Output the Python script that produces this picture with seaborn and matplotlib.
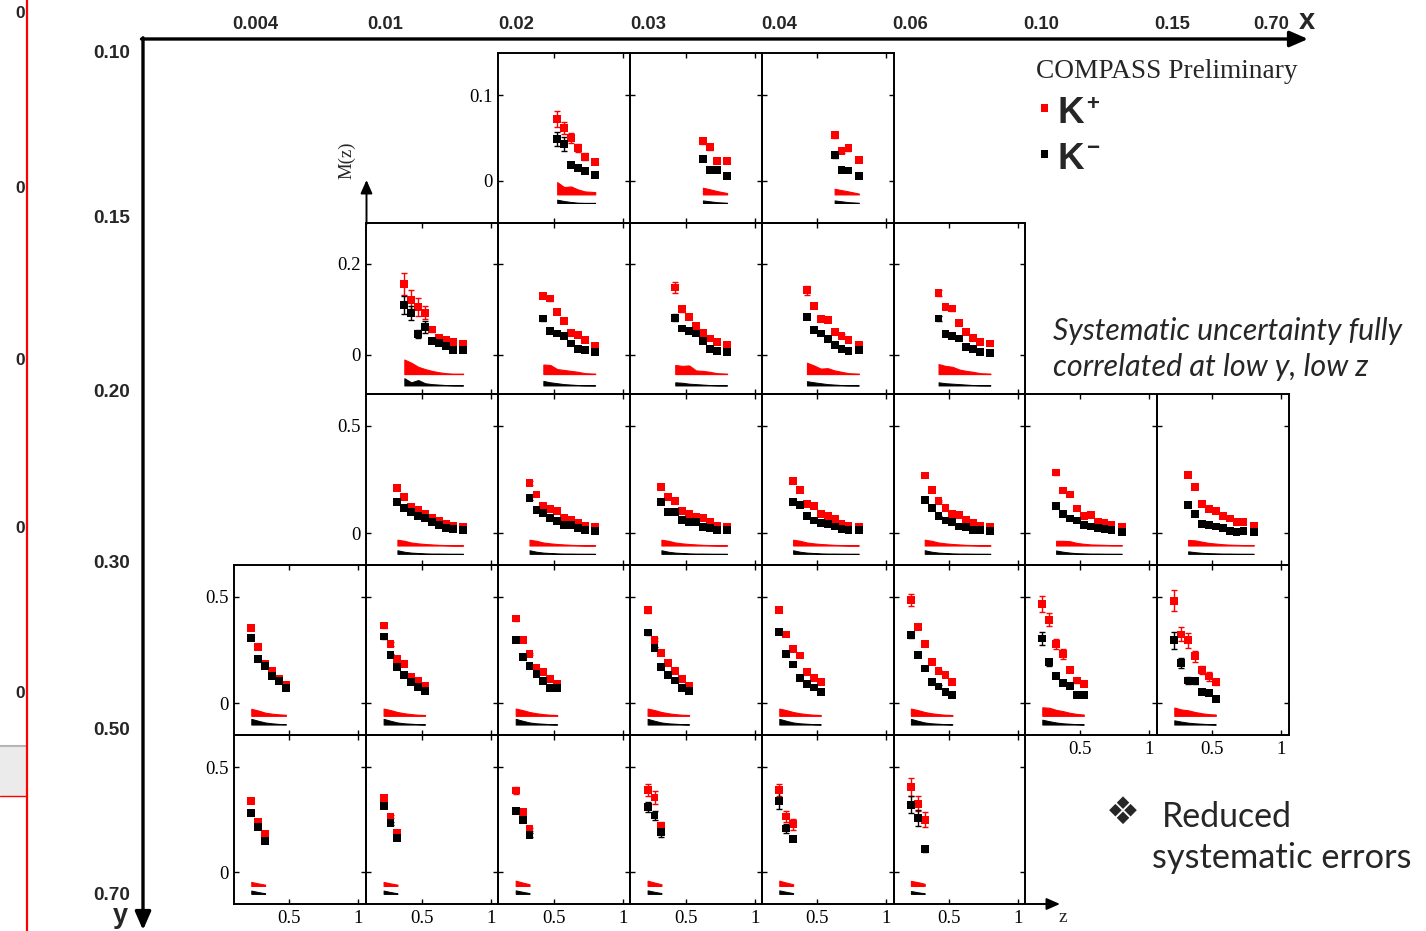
import numpy as np
import pandas as pd
import matplotlib
matplotlib.use("Agg")
import matplotlib.pyplot as plt
from matplotlib.patches import Rectangle
import seaborn as sns

# ---------------------------------------------------------------- data
Z_BINS = [0.225, 0.275, 0.325, 0.375, 0.425, 0.475, 0.525, 0.575, 0.625, 0.675, 0.725, 0.80]
X_BIN_LABELS = ["0.004", "0.01", "0.02", "0.03", "0.04", "0.06", "0.10", "0.15", "0.70"]
Y_BIN_LABELS = ["0.10", "0.15", "0.20", "0.30", "0.50", "0.70"]
LEFT_ARTIFACT_LABELS = ["0", "0", "0", "0", "0"]

# row 0 : 0.10 < y < 0.15
R0_COL = [2, 3, 4]
R0_ZFIRST = [6, 8, 8]
R0_KP = [[0.072, 0.062, 0.050, 0.038, 0.028, 0.022], [0.046, 0.039, 0.023, 0.023], [0.053, 0.035, 0.038, 0.024]]
R0_KM = [[0.049, 0.043, 0.018, 0.015, 0.011, 0.007], [0.025, 0.0125, 0.0125, 0.0055], [0.030, 0.0125, 0.012, 0.006]]
R0_KP_ERR = [[0.009, 0.007, 0.006, 0.005, 0.004, 0.002], [0.003, 0.003, 0.002, 0.002], [0.003, 0.003, 0.003, 0.002]]
R0_KM_ERR = [[0.008, 0.008, 0.002, 0.002, 0.002, 0.002], [0.002, 0.002, 0.002, 0.002], [0.003, 0.002, 0.002, 0.002]]
R0_KP_SYS = [[0.0144, 0.0086, 0.0093, 0.0058, 0.0035, 0.0027], [0.0078, 0.006, 0.004, 0.0016], [0.0066, 0.005, 0.0035, 0.001]]
R0_KM_SYS = [[0.0039, 0.0023, 0.0012, 0.0004, 0.0002, 0.0002], [0.003, 0.002, 0.001, 0.0003], [0.003, 0.002, 0.001, 0.0003]]

# row 1 : 0.15 < y < 0.20
R1_COL = [1, 2, 3, 4, 5]
R1_ZFIRST = [3, 4, 4, 4, 4]
R1_KP = [[0.156, 0.121, 0.105, 0.093, 0.056, 0.037, 0.034, 0.029, 0.024],
         [0.130, 0.124, 0.095, 0.074, 0.048, 0.044, 0.032, 0.019],
         [0.148, 0.101, 0.083, 0.064, 0.048, 0.036, 0.028, 0.022],
         [0.142, 0.108, 0.079, 0.077, 0.051, 0.042, 0.032, 0.022],
         [0.136, 0.105, 0.102, 0.070, 0.050, 0.038, 0.028, 0.025]]
R1_KM = [[0.110, 0.092, 0.046, 0.062, 0.031, 0.027, 0.020, 0.010, 0.011],
         [0.080, 0.053, 0.047, 0.041, 0.025, 0.013, 0.010, 0.006],
         [0.082, 0.058, 0.053, 0.047, 0.031, 0.013, 0.008, 0.007],
         [0.083, 0.055, 0.047, 0.035, 0.022, 0.013, 0.008, 0.010],
         [0.080, 0.046, 0.041, 0.036, 0.018, 0.013, 0.007, 0.005]]
R1_KP_ERR = [[0.025, 0.021, 0.019, 0.015, 0.006, 0.004, 0.004, 0.003, 0.003],
             [0.006, 0.006, 0.005, 0.004, 0.003, 0.003, 0.002, 0.002],
             [0.013, 0.006, 0.005, 0.004, 0.003, 0.003, 0.002, 0.002],
             [0.010, 0.006, 0.005, 0.004, 0.003, 0.003, 0.002, 0.002],
             [0.007, 0.005, 0.005, 0.004, 0.003, 0.003, 0.002, 0.002]]
R1_KM_ERR = [[0.020, 0.016, 0.008, 0.013, 0.005, 0.004, 0.003, 0.003, 0.002],
             [0.005, 0.004, 0.004, 0.003, 0.003, 0.002, 0.002, 0.002],
             [0.008, 0.004, 0.004, 0.003, 0.003, 0.002, 0.002, 0.002],
             [0.005, 0.004, 0.004, 0.003, 0.003, 0.002, 0.002, 0.002],
             [0.005, 0.004, 0.004, 0.003, 0.003, 0.002, 0.002, 0.002]]
R1_KP_SYS = [[0.032, 0.025, 0.016, 0.011, 0.007, 0.004, 0.002, 0.001, 0.001],
             [0.021, 0.020, 0.011, 0.009, 0.007, 0.005, 0.002, 0.001],
             [0.020, 0.018, 0.019, 0.008, 0.007, 0.005, 0.002, 0.001],
             [0.025, 0.019, 0.012, 0.013, 0.008, 0.005, 0.002, 0.001],
             [0.022, 0.018, 0.016, 0.010, 0.007, 0.005, 0.002, 0.001]]
R1_KM_SYS = [[0.016, 0.007, 0.012, 0.005, 0.003, 0.002, 0.001, 0.0005, 0.0003],
             [0.010, 0.007, 0.005, 0.003, 0.002, 0.001, 0.0005, 0.0003],
             [0.007, 0.006, 0.004, 0.003, 0.002, 0.001, 0.0005, 0.0003],
             [0.0095, 0.007, 0.005, 0.003, 0.002, 0.001, 0.0005, 0.0003],
             [0.007, 0.005, 0.004, 0.003, 0.002, 0.001, 0.0005, 0.0003]]

# row 2 : 0.20 < y < 0.30
R2_COL = [1, 2, 3, 4, 5, 6, 7]
R2_ZFIRST = [2, 2, 2, 2, 2, 2, 2]
R2_KP = [[0.209, 0.170, 0.122, 0.106, 0.091, 0.069, 0.059, 0.041, 0.034, 0.028],
         [0.234, 0.180, 0.125, 0.112, 0.103, 0.070, 0.0625, 0.047, 0.034, 0.028],
         [0.216, 0.169, 0.150, 0.103, 0.0875, 0.075, 0.069, 0.050, 0.034, 0.028],
         [0.244, 0.203, 0.134, 0.125, 0.0875, 0.081, 0.066, 0.044, 0.034, 0.031],
         [0.269, 0.203, 0.150, 0.119, 0.091, 0.084, 0.0625, 0.047, 0.034, 0.031],
         [0.283, 0.199, 0.180, 0.115, 0.078, 0.084, 0.053, 0.047, 0.040, 0.031],
         [0.273, 0.217, 0.137, 0.112, 0.102, 0.081, 0.068, 0.053, 0.050, 0.034]]
R2_KM = [[0.144, 0.119, 0.097, 0.081, 0.069, 0.053, 0.037, 0.022, 0.019, 0.0125],
         [0.1625, 0.109, 0.094, 0.072, 0.056, 0.0375, 0.0375, 0.022, 0.0125, 0.009],
         [0.144, 0.100, 0.097, 0.0625, 0.050, 0.050, 0.028, 0.022, 0.016, 0.0125],
         [0.144, 0.131, 0.081, 0.059, 0.047, 0.044, 0.031, 0.019, 0.016, 0.016],
         [0.153, 0.116, 0.078, 0.059, 0.050, 0.031, 0.028, 0.016, 0.016, 0.009],
         [0.127, 0.090, 0.068, 0.059, 0.037, 0.031, 0.022, 0.019, 0.016, 0.006],
         [0.130, 0.090, 0.043, 0.037, 0.031, 0.025, 0.009, 0.006, 0.009, 0.006]]
R2_KP_ERR = [[0.008, 0.006, 0.005, 0.005, 0.004, 0.004, 0.004, 0.003, 0.003, 0.003]] * 5 + \
            [[0.012, 0.008, 0.006, 0.005, 0.005, 0.004, 0.004, 0.003, 0.003, 0.003]] * 2
R2_KM_ERR = [[0.006, 0.005, 0.004, 0.004, 0.003, 0.003, 0.003, 0.003, 0.003, 0.003]] * 7
R2_KP_SYS = [[0.027, 0.022, 0.014, 0.010, 0.007, 0.005, 0.003, 0.002, 0.001, 0.001]] * 5 + \
            [[0.022, 0.022, 0.020, 0.012, 0.008, 0.005, 0.004, 0.003, 0.002, 0.002],
             [0.026, 0.024, 0.018, 0.012, 0.009, 0.006, 0.004, 0.003, 0.002, 0.002]]
R2_KM_SYS = [[0.017, 0.010, 0.006, 0.004, 0.002, 0.001, 0.001, 0.0005, 0.0003, 0.0002]] * 5 + \
            [[0.016, 0.010, 0.006, 0.003, 0.002, 0.001, 0.001, 0.0005, 0.0003, 0.0002],
             [0.012, 0.008, 0.005, 0.003, 0.002, 0.001, 0.001, 0.0005, 0.0003, 0.0002]]

# row 3 : 0.30 < y < 0.50
R3_COL = [0, 1, 2, 3, 4, 5, 6, 7]
R3_ZFIRST = [0, 0, 0, 0, 0, 0, 0, 0]
R3_KP = [[0.352, 0.262, 0.184, 0.152, 0.1125, 0.086],
         [0.364, 0.278, 0.206, 0.183, 0.125, 0.106, 0.081],
         [0.397, 0.297, 0.230, 0.167, 0.145, 0.114, 0.091],
         [0.436, 0.297, 0.234, 0.1875, 0.150, 0.1125, 0.081],
         [0.436, 0.322, 0.253, 0.223, 0.145, 0.117, 0.097],
         [0.484, 0.359, 0.278, 0.192, 0.150, 0.131, 0.097],
         [0.464, 0.391, 0.278, 0.230, 0.156, 0.106, 0.091],
         [0.481, 0.322, 0.294, 0.219, 0.156, 0.125, 0.100]]
R3_KM = [[0.305, 0.208, 0.175, 0.128, 0.102, 0.070],
         [0.3125, 0.225, 0.169, 0.131, 0.097, 0.077, 0.058],
         [0.295, 0.216, 0.175, 0.1375, 0.103, 0.069, 0.069],
         [0.331, 0.258, 0.169, 0.130, 0.106, 0.072, 0.055],
         [0.334, 0.231, 0.181, 0.119, 0.0875, 0.073, 0.052],
         [0.320, 0.225, 0.1625, 0.100, 0.078, 0.052, 0.039],
         [0.303, 0.191, 0.128, 0.094, 0.081, 0.0375, 0.0375],
         [0.294, 0.1875, 0.106, 0.103, 0.052, 0.047, 0.019]]
R3_KP_ERR = [[0.010, 0.008, 0.006, 0.005, 0.005, 0.004],
             [0.010, 0.008, 0.006, 0.005, 0.005, 0.004, 0.004],
             [0.010, 0.008, 0.006, 0.005, 0.005, 0.004, 0.004],
             [0.012, 0.008, 0.006, 0.005, 0.005, 0.004, 0.004],
             [0.010, 0.008, 0.006, 0.005, 0.005, 0.004, 0.004],
             [0.027, 0.012, 0.008, 0.006, 0.006, 0.005, 0.005],
             [0.038, 0.031, 0.025, 0.022, 0.012, 0.010, 0.010],
             [0.050, 0.033, 0.035, 0.025, 0.020, 0.020, 0.015]]
R3_KM_ERR = [[0.010, 0.007, 0.005, 0.005, 0.004, 0.004],
             [0.010, 0.007, 0.005, 0.005, 0.004, 0.004, 0.004],
             [0.010, 0.007, 0.005, 0.005, 0.004, 0.004, 0.004],
             [0.010, 0.007, 0.005, 0.005, 0.004, 0.004, 0.004],
             [0.010, 0.007, 0.005, 0.005, 0.004, 0.004, 0.004],
             [0.014, 0.009, 0.006, 0.005, 0.005, 0.004, 0.004],
             [0.029, 0.015, 0.010, 0.008, 0.006, 0.006, 0.006],
             [0.039, 0.025, 0.015, 0.015, 0.008, 0.008, 0.006]]
R3_KP_SYS = [[0.033, 0.025, 0.015, 0.010, 0.007, 0.005]] + \
            [[0.034, 0.027, 0.018, 0.012, 0.008, 0.005, 0.004]] * 5 + \
            [[0.040, 0.038, 0.028, 0.022, 0.014, 0.009, 0.006],
             [0.039, 0.030, 0.026, 0.018, 0.012, 0.008, 0.006]]
R3_KM_SYS = [[0.027, 0.018, 0.010, 0.006, 0.003, 0.002]] + \
            [[0.027, 0.018, 0.010, 0.006, 0.004, 0.002, 0.001]] * 5 + \
            [[0.023, 0.016, 0.010, 0.006, 0.004, 0.002, 0.001],
             [0.020, 0.014, 0.009, 0.006, 0.004, 0.002, 0.001]]

# row 4 : 0.50 < y < 0.70
R4_COL = [0, 1, 2, 3, 4, 5]
R4_ZFIRST = [0, 0, 0, 0, 0, 0]
R4_KP = [[0.340, 0.242, 0.181], [0.355, 0.266, 0.189], [0.390, 0.287, 0.205],
         [0.393, 0.357, 0.221], [0.393, 0.266, 0.229], [0.406, 0.327, 0.251]]
R4_KM = [[0.283, 0.217, 0.151], [0.316, 0.234, 0.164], [0.291, 0.250, 0.180],
         [0.311, 0.271, 0.194], [0.342, 0.209, 0.161], [0.322, 0.259, 0.111]]
R4_KP_ERR = [[0.008, 0.008, 0.008], [0.008, 0.008, 0.008], [0.015, 0.008, 0.008],
             [0.030, 0.030, 0.020], [0.030, 0.025, 0.025], [0.044, 0.035, 0.035]]
R4_KM_ERR = [[0.008, 0.008, 0.008], [0.008, 0.008, 0.008], [0.010, 0.010, 0.010],
             [0.025, 0.020, 0.025], [0.040, 0.020, 0.010], [0.040, 0.040, 0.012]]
R4_KP_SYS = [[0.019, 0.012, 0.006]] * 2 + [[0.025, 0.016, 0.008]] * 3 + [[0.024, 0.018, 0.010]]
R4_KM_SYS = [[0.016, 0.009, 0.003]] * 2 + [[0.017, 0.010, 0.004]] * 3 + [[0.014, 0.008, 0.003]]

ROWS = [
    dict(col=R0_COL, zf=R0_ZFIRST, kp=R0_KP, km=R0_KM, kpe=R0_KP_ERR, kme=R0_KM_ERR, kps=R0_KP_SYS, kms=R0_KM_SYS),
    dict(col=R1_COL, zf=R1_ZFIRST, kp=R1_KP, km=R1_KM, kpe=R1_KP_ERR, kme=R1_KM_ERR, kps=R1_KP_SYS, kms=R1_KM_SYS),
    dict(col=R2_COL, zf=R2_ZFIRST, kp=R2_KP, km=R2_KM, kpe=R2_KP_ERR, kme=R2_KM_ERR, kps=R2_KP_SYS, kms=R2_KM_SYS),
    dict(col=R3_COL, zf=R3_ZFIRST, kp=R3_KP, km=R3_KM, kpe=R3_KP_ERR, kme=R3_KM_ERR, kps=R3_KP_SYS, kms=R3_KM_SYS),
    dict(col=R4_COL, zf=R4_ZFIRST, kp=R4_KP, km=R4_KM, kpe=R4_KP_ERR, kme=R4_KM_ERR, kps=R4_KP_SYS, kms=R4_KM_SYS),
]

# ---------------------------------------------------------------- layout / style
W, H = 1426, 931
PANEL_LEFT = [234.0, 366.3, 498.4, 630.3, 762.0, 893.6, 1025.0, 1157.0]
PANEL_W = 131.8
ROW_TOP = [53.3, 223.3, 394.0, 564.8, 734.8]
ROW_BOTTOM = [223.3, 394.0, 564.8, 734.8, 904.0]
XLIM = (0.1, 1.053)
YLIMS = [(-0.0497, 0.1487), (-0.0857, 0.289), (-0.148, 0.649), (-0.149, 0.649), (-0.150, 0.655)]
YTICK_STEP = [0.1, 0.2, 0.5, 0.5, 0.5]
BAND_BASE = [(-0.016, -0.026), (-0.042, -0.067), (-0.058, -0.097), (-0.060, -0.101), (-0.064, -0.102)]
RED, BLACK = "#ff0000", "#000000"
PALETTE = {"K+": RED, "K-": BLACK}

sns.set_style("ticks")
plt.rcParams["font.family"] = ["Liberation Serif", "DejaVu Serif"]
plt.rcParams["axes.linewidth"] = 1.4

fig = plt.figure(figsize=(W / 100, H / 100), dpi=100)
fig.patch.set_facecolor("white")
ov = fig.add_axes([0, 0, 1, 1], zorder=0)
ov.set_xlim(0, W)
ov.set_ylim(H, 0)
ov.axis("off")

present = set()
for r, row in enumerate(ROWS):
    for c in row["col"]:
        present.add((r, c))

for r, row in enumerate(ROWS):
    top, bot = ROW_TOP[r], ROW_BOTTOM[r]
    first_col = min(row["col"])
    for i, c in enumerate(row["col"]):
        L = PANEL_LEFT[c]
        ax = fig.add_axes([L / W, 1 - bot / H, PANEL_W / W, (bot - top) / H], zorder=2)
        ax.set_facecolor("none")
        n = len(row["kp"][i])
        z = Z_BINS[row["zf"][i]: row["zf"][i] + n]
        kp, km = row["kp"][i], row["km"][i]
        # systematic bands
        bp, bm = BAND_BASE[r]
        ax.fill_between(z, bp, bp + np.array(row["kps"][i]), color=RED, lw=0.8, zorder=1)
        ax.fill_between(z, bm, bm + np.array(row["kms"][i]), color=BLACK, lw=0.7, zorder=1)
        # statistical errors
        ax.errorbar(z, kp, yerr=row["kpe"][i], fmt="none", ecolor=RED, elinewidth=1.0,
                    capsize=2.5, capthick=1.0, zorder=2)
        ax.errorbar(z, km, yerr=row["kme"][i], fmt="none", ecolor=BLACK, elinewidth=1.0,
                    capsize=2.5, capthick=1.0, zorder=2)
        df = pd.DataFrame({"z": list(z) * 2, "M": list(kp) + list(km),
                           "hadron": ["K+"] * n + ["K-"] * n})
        sns.scatterplot(data=df, x="z", y="M", hue="hadron", palette=PALETTE, marker="s",
                        s=32, linewidth=0, legend=False, ax=ax, zorder=4)
        ax.set_xlabel("")
        ax.set_ylabel("")
        ax.set_xlim(*XLIM)
        ax.set_ylim(*YLIMS[r])
        ax.set_xticks([0.5, 1.0])
        ax.set_yticks([0, YTICK_STEP[r]])
        ax.tick_params(direction="in", length=3.5, width=1.0, top=True, right=True,
                       labelsize=13.5, colors="black")
        ax.tick_params(axis="y", pad=4)
        ax.tick_params(axis="x", pad=4.5)
        if c == first_col:
            ax.set_yticklabels(["0", "%g" % YTICK_STEP[r]])
        else:
            ax.set_yticklabels([])
        if (r + 1, c) not in present:
            ax.set_xticklabels(["0.5", "1"])
        else:
            ax.set_xticklabels([])
        for s in ax.spines.values():
            s.set_linewidth(1.4)
            s.set_color("black")

# ---------------------------------------------------------------- outer frame (x, y bins)
head = "-|>,head_length=0.55,head_width=0.24"
ov.annotate("", xy=(1308, 39), xytext=(141.5, 39),
            arrowprops=dict(arrowstyle=head, lw=2.4, color="black", mutation_scale=20, shrinkA=0, shrinkB=0))
ov.annotate("", xy=(143, 930), xytext=(143, 37.8),
            arrowprops=dict(arrowstyle=head, lw=2.4, color="black", mutation_scale=20, shrinkA=0, shrinkB=0))
sans = ["Liberation Sans", "DejaVu Sans"]
XLAB_X = [255, 385, 516, 648, 779, 910, 1041, 1172, 1271]
for xx, lab in zip(XLAB_X, X_BIN_LABELS):
    ov.text(xx, 29, lab, ha="center", va="baseline", fontsize=13.3, fontweight="bold", family=sans)
ov.text(1307, 29, "x", ha="center", va="baseline", fontsize=21, fontweight="bold", family=sans)
YLAB_Y = [58, 223, 397, 568, 735, 900]
for yy, lab in zip(YLAB_Y, Y_BIN_LABELS):
    ov.text(111.5, yy, lab, ha="center", va="baseline", fontsize=13.7, fontweight="bold", family=sans)
ov.text(120, 923, "y", ha="center", va="baseline", fontsize=19.5, fontweight="bold", family=sans)

# small axis arrows M(z) and z
small = "-|>,head_length=0.5,head_width=0.22"
ov.annotate("", xy=(366.5, 180), xytext=(366.5, 224),
            arrowprops=dict(arrowstyle=small, lw=1.4, color="black", mutation_scale=16, shrinkA=0, shrinkB=0))
ov.text(347, 160, "M(z)", rotation=90, ha="center", va="center", fontsize=13.5,
        family=["Liberation Serif", "DejaVu Serif"])
ov.annotate("", xy=(1060, 904), xytext=(1024, 904),
            arrowprops=dict(arrowstyle=small, lw=1.4, color="black", mutation_scale=16, shrinkA=0, shrinkB=0))
ov.text(1063, 922, "z", ha="center", va="baseline", fontsize=14,
        family=["Liberation Serif", "DejaVu Serif"])

# ---------------------------------------------------------------- legend / annotations
renderer = fig.canvas.get_renderer()


def fit_text(x, y, s, width, fs, **kw):
    t = ov.text(x, y, s, fontsize=fs, **kw)
    bb = t.get_window_extent(renderer=renderer)
    t.set_fontsize(fs * width / bb.width)
    return t


fit_text(1036, 78.5, "COMPASS Preliminary", 262, 20, ha="left", va="baseline",
         family=["Liberation Serif", "DejaVu Serif"])
ov.add_patch(Rectangle((1040.7, 104.0), 7.7, 7.7, color=RED, lw=0))
ov.add_patch(Rectangle((1040.7, 149.9), 7.7, 7.7, color=BLACK, lw=0))
ov.text(1057, 123.3, "K", ha="left", va="baseline", fontsize=26.5, fontweight="bold", family=sans)
ov.text(1086.5, 110.3, "+", ha="left", va="baseline", fontsize=16, fontweight="bold", family=sans)
ov.text(1086.5, 154.0, "\u2212", ha="left", va="baseline", fontsize=16, fontweight="bold", family=sans)
ov.text(1057, 169.3, "K", ha="left", va="baseline", fontsize=26.5, fontweight="bold", family=sans)

hum = ["Lato", "Open Sans", "DejaVu Sans"]
fit_text(1053, 340, "Systematic uncertainty fully", 349, 20, ha="left", va="baseline",
         style="italic", family=hum)
fit_text(1053, 376, "correlated at low y, low z", 315, 20, ha="left", va="baseline",
         style="italic", family=hum)
fit_text(1122.5, 813.5, "\u2756", 34, 24, ha="center", va="center", family=["DejaVu Sans"])
fit_text(1162, 826.7, "Reduced", 130, 25, ha="left", va="baseline", family=hum)
fit_text(1152, 868.3, "systematic errors", 260, 25, ha="left", va="baseline", family=hum)

# ---------------------------------------------------------------- slide artefacts on the left edge
ov.add_patch(Rectangle((0, 745), 26.5, 51, facecolor="#ebebeb", edgecolor="none"))
ov.plot([0, 26.5], [745.5, 745.5], color="#b5b5b5", lw=1.5)
ov.plot([0, 26.5], [796, 796], color=RED, lw=1.0)
ov.plot([26.5, 26.5], [0, H], color=RED, lw=1.6)
for yy, lab in zip([18, 193, 365, 533, 698], LEFT_ARTIFACT_LABELS):
    ov.text(20, yy, lab, ha="center", va="baseline", fontsize=12.5, fontweight="bold", family=sans)

fig.savefig("out.png", dpi=100, facecolor="white")
